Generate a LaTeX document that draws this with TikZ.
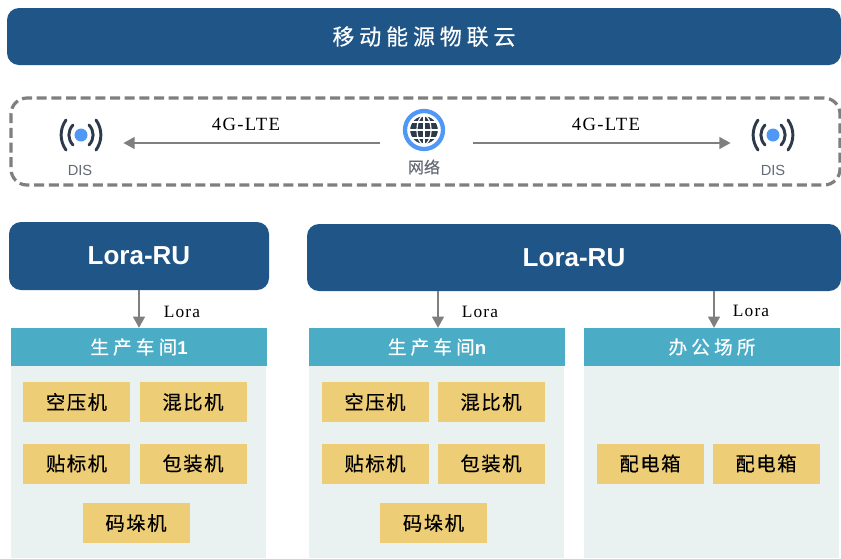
\documentclass[tikz,border=0pt]{standalone}
\usepackage{fontspec}
\usetikzlibrary{arrows.meta}
\setmainfont{Liberation Serif}
\setsansfont{Liberation Sans}
\newfontfamily\cjk[FakeBold=0.2]{Noto Sans CJK SC}
\newfontfamily\cjkwide[LetterSpace=8,FakeBold=0.5]{Noto Sans CJK SC}
\newfontfamily\cjkwider[LetterSpace=22,FakeBold=0.4]{Noto Sans CJK SC}
\newfontfamily\latinwide[LetterSpace=7]{Liberation Serif}
\definecolor{navy}{HTML}{1F5587}
\definecolor{dashgray}{HTML}{7F7F7F}
\definecolor{headblue}{HTML}{4BACC6}
\definecolor{panelbg}{HTML}{E9F1F1}
\definecolor{machine}{HTML}{EDCD76}
\definecolor{icondark}{HTML}{2C3A4B}
\definecolor{iconblue}{HTML}{4F98F5}
\definecolor{icongray}{HTML}{636A74}
\tikzset{
  x=0.75pt,y=-0.75pt,
  navybox/.style={fill=navy,text=white,rounded corners=9pt,inner sep=0pt},
  head/.style={fill=headblue,text=white,inner sep=0pt,minimum width=256*0.75pt,minimum height=38*0.75pt,font=\cjkwider\fontsize{14}{16}\selectfont},
  panel/.style={fill=panelbg,inner sep=0pt,minimum width=255*0.75pt,minimum height=192*0.75pt},
  mach/.style={fill=machine,text=black,inner sep=0pt,minimum width=107*0.75pt,minimum height=40*0.75pt,font=\cjkwide\fontsize{14.5}{16}\selectfont},
  link/.style={draw=dashgray,line width=2.2pt,-{Triangle[length=8.5pt,width=8.5pt]}},
  lbl/.style={inner sep=0pt,text=black},
  icontext/.style={inner sep=0pt,text=icongray},
  anchorbox/.style={inner sep=0pt,minimum height=2pt},
  sigarc/.style={draw=icondark,line width=2.2pt,line cap=round},
}
\newcommand{\sigicon}[2]{%
  \fill[iconblue] (#1,#2) circle[radius=6.5];
  \draw[sigarc] (#1-8,#2-10) .. controls (#1-13.5,#2-4) and (#1-13.5,#2+4) .. (#1-8,#2+10);
  \draw[sigarc] (#1+8,#2-10) .. controls (#1+13.5,#2-4) and (#1+13.5,#2+4) .. (#1+8,#2+10);
  \draw[sigarc] (#1-15,#2-15) .. controls (#1-21.5,#2-6) and (#1-21.5,#2+6) .. (#1-15,#2+15);
  \draw[sigarc] (#1+15,#2-15) .. controls (#1+21.5,#2-6) and (#1+21.5,#2+6) .. (#1+15,#2+15);
}
\begin{document}
\begin{tikzpicture}
\useasboundingbox (0,0) rectangle (841,558);
\fill[white] (0,0) rectangle (841,558);

% top bar
\node[navybox,minimum width=834*0.75pt,minimum height=57*0.75pt,font=\cjkwider\fontsize{16.5}{18}\selectfont] (cloud) at (424,36.5) {移动能源物联云};

% dashed network frame
\node[draw=dashgray,line width=2.4pt,dash pattern=on 7.5pt off 3.5pt,rounded corners=12pt,inner sep=0pt,minimum width=829*0.75pt,minimum height=87*0.75pt] (frame) at (425.5,141.5) {};

% network icon
\fill[white] (424,130) circle[radius=21];
\draw[iconblue,line width=3.2pt] (424,130) circle[radius=19];
\fill[icondark] (424,130) circle[radius=14.5];
\begin{scope}[white,line width=0.9pt]
  \draw (424,130) circle[radius=14.5];
  \draw (424,130) ellipse[x radius=7,y radius=14.5];
  \draw (424,115.5) -- (424,144.5);
  \draw (409.5,130) -- (438.5,130);
  \draw (412,122) -- (436,122);
  \draw (412,138) -- (436,138);
\end{scope}
\node[icontext,font=\cjk\fontsize{12}{14}\selectfont] (netlabel) at (424,167) {网络};
\node[anchorbox,minimum width=93*0.75pt] (net) at (426.5,143) {};

% DIS icons
\sigicon{81}{135}
\sigicon{773}{135}
\node[icontext,font=\sffamily\fontsize{11}{13}\selectfont] (dislabelL) at (80,170) {DIS};
\node[icontext,font=\sffamily\fontsize{11}{13}\selectfont] (dislabelR) at (773,170) {DIS};
\node[anchorbox,minimum width=86*0.75pt] (disL) at (80,143) {};
\node[anchorbox,minimum width=84*0.75pt] (disR) at (773,143) {};
\draw[link] (net.west) -- (disL.east);
\draw[link] (net.east) -- (disR.west);
\node[lbl,font=\latinwide\fontsize{14}{16}\selectfont] (lteL) at (246,124) {4G-LTE};
\node[lbl,font=\latinwide\fontsize{14}{16}\selectfont] (lteR) at (606,124) {4G-LTE};

% Lora-RU
\node[navybox,minimum width=260*0.75pt,minimum height=68*0.75pt,font=\sffamily\bfseries\fontsize{19.5}{22}\selectfont] (ruL) at (139,256) {Lora-RU};
\node[navybox,minimum width=534*0.75pt,minimum height=67*0.75pt,font=\sffamily\bfseries\fontsize{19.5}{22}\selectfont] (ruR) at (574,257.5) {Lora-RU};

% panels
\node[panel] (p1) at (138.5,462) {};
\node[panel] (p2) at (436.5,462) {};
\node[panel] (p3) at (711.5,462) {};

% headers
\node[head] (h1) at (139,347) {生产车间{\sffamily\bfseries 1}};
\node[head] (h2) at (437,347) {生产车间{\sffamily\bfseries n}};
\node[head] (h3) at (712,347) {办公场所};

% arrows
\coordinate (t1) at (139,328);
\coordinate (t2) at (438,328);
\coordinate (t3) at (714,328);
\draw[link] (ruL.south -| t1) -- (t1);
\draw[link] (ruR.south -| t2) -- (t2);
\draw[link] (ruR.south -| t3) -- (t3);
\node[lbl,font=\latinwide\fontsize{13}{15}\selectfont] (l1) at (182,312) {Lora};
\node[lbl,font=\latinwide\fontsize{13}{15}\selectfont] (l2) at (480,312) {Lora};
\node[lbl,font=\latinwide\fontsize{13}{15}\selectfont] (l3) at (751,311) {Lora};

% machines, workshop 1
\node[mach] (a1) at (76.5,402) {空压机};
\node[mach] (a2) at (193,402) {混比机};
\node[mach] (a3) at (76.5,463.5) {贴标机};
\node[mach] (a4) at (193,463.5) {包装机};
\node[mach] (a5) at (136,523) {码垛机};
% machines, workshop n
\node[mach] (b1) at (375,402) {空压机};
\node[mach] (b2) at (491,402) {混比机};
\node[mach] (b3) at (375,463.5) {贴标机};
\node[mach] (b4) at (491,463.5) {包装机};
\node[mach] (b5) at (433.5,523) {码垛机};
% office
\node[mach] (c1) at (650,463.5) {配电箱};
\node[mach] (c2) at (766,463.5) {配电箱};
\end{tikzpicture}
\end{document}
